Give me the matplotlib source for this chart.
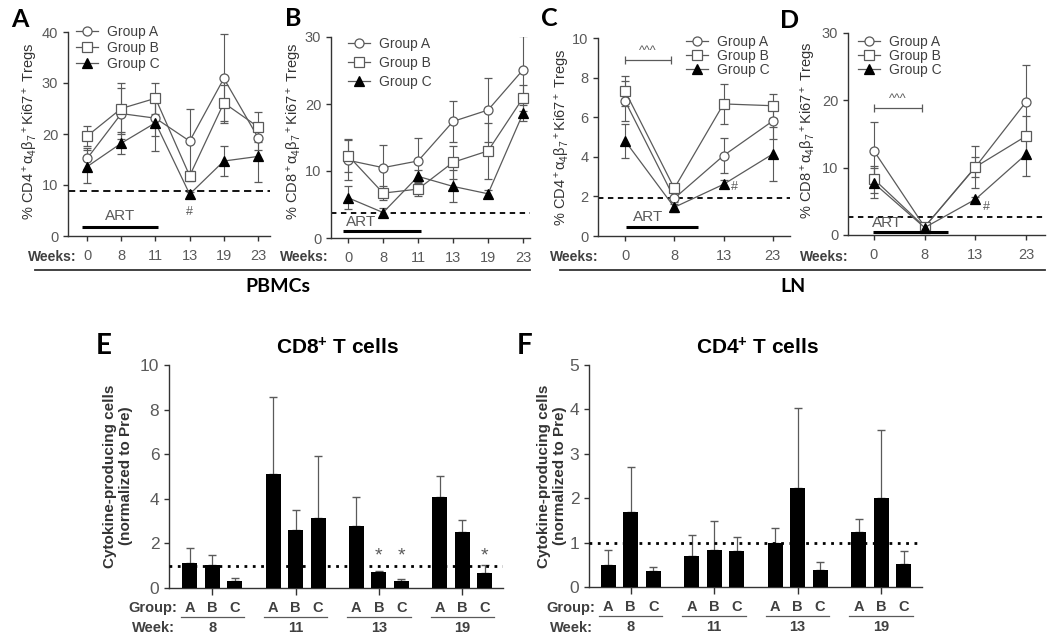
import numpy as np
import matplotlib
matplotlib.use('Agg')
import matplotlib.pyplot as plt
from matplotlib.lines import Line2D

plt.rcParams['font.family'] = ['Liberation Sans', 'DejaVu Sans']
plt.rcParams['mathtext.fontset'] = 'custom'
plt.rcParams['mathtext.rm'] = 'Liberation Sans'
plt.rcParams['mathtext.it'] = 'Liberation Sans:italic'
plt.rcParams['mathtext.bf'] = 'Liberation Sans:bold'

# ---------------- data ----------------
group_names = ['Group A', 'Group B', 'Group C']

weeks_pbmc = ['0', '8', '11', '13', '19', '23']
weeks_ln = ['0', '8', '13', '23']

# A: CD4 PBMC
cd4_pbmc_mean = [[15.2, 24.0, 23.1, 18.6, 30.9, 19.3],
                 [19.6, 25.0, 27.0, 11.8, 26.1, 21.4],
                 [13.6, 18.2, 22.2, 8.2, 14.7, 15.6]]
cd4_pbmc_err = [[2.0, 5.0, 3.5, 6.3, 8.7, 2.5],
                [2.0, 5.0, 3.0, 1.0, 3.5, 3.0],
                [3.3, 2.1, 5.5, 0.5, 3.0, 5.1]]
# B: CD8 PBMC
cd8_pbmc_mean = [[11.6, 10.5, 11.5, 17.4, 19.1, 25.1],
                 [12.3, 6.7, 7.3, 11.3, 13.0, 20.9],
                 [6.0, 3.8, 9.2, 7.7, 6.6, 18.6]]
cd8_pbmc_err = [[3.0, 3.4, 3.5, 3.1, 4.8, 5.0],
                [2.5, 1.0, 1.0, 2.5, 4.2, 2.0],
                [1.7, 0.7, 1.0, 2.4, 0.5, 1.2]]
# C: CD4 LN
cd4_ln_mean = [[6.82, 1.90, 4.06, 5.81],
               [7.32, 2.41, 6.67, 6.58],
               [4.80, 1.45, 2.61, 4.14]]
cd4_ln_err = [[1.0, 0.3, 0.9, 0.9],
              [0.75, 0.2, 1.0, 0.6],
              [0.85, 0.25, 0.2, 1.37]]
# D: CD8 LN
cd8_ln_mean = [[12.5, 1.2, 10.1, 19.8],
               [8.3, 1.2, 10.1, 14.7],
               [7.7, 1.1, 5.3, 12.0]]
cd8_ln_err = [[4.3, 0.3, 3.1, 5.4],
              [2.0, 0.3, 1.5, 3.0],
              [2.2, 0.3, 0.3, 3.3]]

thresholds = [8.8, 3.8, 1.94, 2.7]

# E / F bars
bar_weeks = ['8', '11', '13', '19']
bar_groups = ['A', 'B', 'C']
cd8_bar_mean = [[1.12, 5.12, 2.76, 4.07],
                [1.01, 2.58, 0.70, 2.50],
                [0.30, 3.13, 0.33, 0.67]]
cd8_bar_err = [[0.67, 3.46, 1.30, 0.96],
               [0.48, 0.90, 0.05, 0.56],
               [0.15, 2.77, 0.07, 0.34]]
cd4_bar_mean = [[0.50, 0.70, 0.98, 1.23],
                [1.68, 0.83, 2.23, 2.00],
                [0.35, 0.80, 0.38, 0.52]]
cd4_bar_err = [[0.33, 0.47, 0.35, 0.30],
               [1.03, 0.65, 1.81, 1.53],
               [0.09, 0.33, 0.18, 0.28]]

# ---------------- figure ----------------
W, H = 1050, 644
fig = plt.figure(figsize=(W / 100, H / 100), dpi=100)

GRAY = '#5a5a5a'
TXT = '#404040'


def rect(l, t, r, b):
    return [l / W, 1 - b / H, (r - l) / W, (b - t) / H]


def fx(x):
    return x / W


def fy(y):
    return 1 - y / H


styles = [dict(marker='o', ms=6.5, mfc='white', mec=GRAY),
          dict(marker='s', ms=6.5, mfc='white', mec=GRAY),
          dict(marker='^', ms=7, mfc='black', mec='black')]


def style_axes(ax):
    for s in ['top', 'right']:
        ax.spines[s].set_visible(False)
    for s in ['left', 'bottom']:
        ax.spines[s].set_color('#333333')
        ax.spines[s].set_linewidth(1.0)
    ax.tick_params(direction='out', length=3.5, width=1.0, color='#333333',
                   labelcolor=GRAY, labelsize=10.5)


def line_panel(box, xlim, weeks, means, errs, ymax, ystep, thr, dash,
               ylabel, ylab_xy, leg_xy, leg_space, weeks_x):
    ax = fig.add_axes(rect(*box))
    x = np.arange(len(weeks))
    for m, e, st in zip(means, errs, styles):
        ax.errorbar(x, m, yerr=e, color=GRAY, lw=0.9, ecolor=GRAY,
                    elinewidth=0.8, capsize=3, capthick=0.8, mew=0.9,
                    zorder=3, **st)
    ax.axhline(thr, color='black', ls=dash, lw=1.3, zorder=2)
    ax.set_xlim(*xlim)
    ax.set_ylim(0, ymax)
    ax.set_yticks(np.arange(0, ymax + 0.01, ystep))
    ax.set_xticks(x)
    ax.set_xticklabels(weeks)
    style_axes(ax)
    ax.tick_params(axis='x', pad=6)
    handles = [Line2D([], [], color=GRAY, lw=0.9, mew=0.9, **st) for st in styles]
    ax.legend(handles, group_names, loc='upper left', frameon=False,
              bbox_to_anchor=(fx(leg_xy[0]), fy(leg_xy[1])),
              bbox_transform=fig.transFigure, borderpad=0, borderaxespad=0,
              fontsize=10, labelcolor=TXT, handlelength=1.6, handletextpad=0.6,
              labelspacing=leg_space)
    fig.text(fx(ylab_xy[0]), fy(ylab_xy[1]), ylabel, rotation=90,
             ha='center', va='center', fontsize=10.5, color='#333333')
    fig.text(fx(weeks_x), fy(257), 'Weeks:', ha='right', va='center',
             fontsize=10, fontweight='bold', color=TXT)
    return ax


lab_cd4 = '% CD4$^+$α$_4$β$_7$$^+$Ki67$^+$ Tregs'
lab_cd8 = '% CD8$^+$α$_4$β$_7$$^+$Ki67$^+$ Tregs'

axA = line_panel((68, 32, 270, 236), (-0.56, 5.35), weeks_pbmc, cd4_pbmc_mean,
                 cd4_pbmc_err, 40, 10, thresholds[0], (0, (4, 2.5)),
                 lab_cd4, (31, 131), (76, 25), 0.15, 77)
axB = line_panel((331, 37, 530, 238), (-0.49, 5.2), weeks_pbmc, cd8_pbmc_mean,
                 cd8_pbmc_err, 30, 10, thresholds[1], (0, (3, 2.5)),
                 lab_cd8, (294, 131), (348, 37), 0.35, 329)
axC = line_panel((598, 38, 790, 236), (-0.55, 3.35), weeks_ln, cd4_ln_mean,
                 cd4_ln_err, 10, 2, thresholds[2], (0, (3, 2.5)),
                 lab_cd4, (563, 137), (686, 35), 0.0, 599)
axD = line_panel((848, 33, 1045, 235), (-0.51, 3.37), weeks_ln, cd8_ln_mean,
                 cd8_ln_err, 30, 10, thresholds[3], (0, (3, 2.5)),
                 lab_cd8, (808, 130), (858, 35), 0.0, 849)

# ART bars
for ax, x0, x1, yb, xt, yt in [(axA, -0.15, 2.07, 1.7, 0.97, 2.6),
                               (axB, -0.14, 2.08, 1.0, 0.38, 1.4),
                               (axC, 0.02, 1.49, 0.44, 0.47, 0.62),
                               (axD, -0.02, 1.45, 0.45, 0.26, 0.8)]:
    ax.plot([x0, x1], [yb, yb], color='black', lw=2.2, solid_capstyle='butt',
            clip_on=False, zorder=4)
    ax.text(xt, yt, 'ART', ha='center', va='bottom', fontsize=11, color=GRAY)

# ^^^ brackets
for ax, y, d in [(axC, 8.9, 0.15), (axD, 18.8, 0.45)]:
    ax.errorbar([0.47], [y], xerr=[[0.47]], color=GRAY, elinewidth=0.9,
                capsize=3, capthick=0.9, fmt='none')
    ax.text(0.47, y + d, '^^^', ha='center', va='bottom', fontsize=9, color=GRAY)

# # marks
axA.text(3, 4.8, '#', ha='center', va='center', fontsize=9, color=GRAY)
axC.text(2.23, 2.45, '#', ha='center', va='center', fontsize=9, color=GRAY)
axD.text(2.22, 4.2, '#', ha='center', va='center', fontsize=9, color=GRAY)

# group rules
for x0, x1 in [(35, 530), (560, 1045)]:
    fig.add_artist(Line2D([fx(x0), fx(x1)], [fy(270), fy(270)],
                          color='#333333', lw=1.3))
fig.text(fx(278), fy(287), 'PBMCs', ha='center', va='center', fontsize=14,
         fontweight='bold', family='Lato')
fig.text(fx(793), fy(287), 'LN', ha='center', va='center', fontsize=14,
         fontweight='bold', family='Lato')

# panel letters
for letter, x, y, size in [('A', 11, 27, 18), ('B', 285, 26, 18),
                           ('C', 541, 26, 18), ('D', 780, 28, 18),
                           ('E', 96, 354, 20), ('F', 517, 354, 20)]:
    fig.text(fx(x), fy(y), letter, ha='left', va='baseline', fontsize=size,
             fontweight='bold', family='Lato')


# ---------------- bar panels ----------------
def bar_panel(box, xlim, means, errs, ymax, ystep, title, title_x,
              ylab_x, lab_x, stars):
    ax = fig.add_axes(rect(*box))
    gx = np.arange(len(bar_weeks))
    offs = [-0.27, 0, 0.27]
    for m, e, o in zip(means, errs, offs):
        ax.bar(gx + o, m, width=0.18, color='black', zorder=3)
        ax.errorbar(gx + o, m, yerr=[np.zeros(len(m)), e], fmt='none',
                    ecolor=GRAY, elinewidth=0.9, capsize=3, capthick=1.0, zorder=2)
    ax.axhline(1.0, color='black', ls=(0, (1, 2)), lw=2, zorder=4)
    ax.set_xlim(*xlim)
    ax.set_ylim(0, ymax)
    ax.set_yticks(np.arange(0, ymax + 0.01, ystep))
    ax.set_xticks(gx)
    ax.set_xticklabels([])
    style_axes(ax)
    ax.tick_params(labelsize=12.5)
    ax.tick_params(axis='x', length=5)
    tr = ax.get_xaxis_transform()
    bh = box[3] - box[1]
    for g, wk in enumerate(bar_weeks):
        for o, gname in zip(offs, bar_groups):
            ax.text(g + o, -20 / bh, gname, transform=tr, ha='center',
                    va='center', fontsize=10.5, fontweight='bold', color=TXT)
        ax.plot([g - 0.38, g + 0.38], [-29 / bh, -29 / bh], transform=tr,
                color=GRAY, lw=0.9, clip_on=False)
        ax.text(g, -40 / bh, wk, transform=tr, ha='center', va='center',
                fontsize=10.5, fontweight='bold', color=TXT)
    for sx, sy in stars:
        ax.text(sx, sy, '*', ha='center', va='center', fontsize=14, color=GRAY)
    fig.text(fx(title_x), fy(348), title, ha='center', va='center',
             fontsize=15, fontweight='bold')
    fig.text(fx(ylab_x), fy(476), 'Cytokine-producing cells\n(normalized to Pre)',
             rotation=90, ha='center', va='center', fontsize=11,
             fontweight='bold', color='#333333', linespacing=1.15)
    fig.text(fx(lab_x), fy(608), 'Group:', ha='right', va='center', fontsize=10.5,
             fontweight='bold', color=TXT)
    fig.text(fx(lab_x - 2), fy(628), 'Week:', ha='right', va='center',
             fontsize=10.5, fontweight='bold', color=TXT)
    return ax


bar_panel((169, 365, 503, 588), (-0.52, 3.49), cd8_bar_mean, cd8_bar_err,
          10, 2, 'CD8$^{\\mathbf{+}}$ T cells', 337, 118, 177,
          [(2, 1.45), (2.27, 1.45), (3.27, 1.45)])
bar_panel((589, 365, 922, 587), (-0.5, 3.49), cd4_bar_mean, cd4_bar_err,
          5, 1, 'CD4$^{\\mathbf{+}}$ T cells', 757, 552, 595, [])

fig.savefig('out.png', dpi=100)
